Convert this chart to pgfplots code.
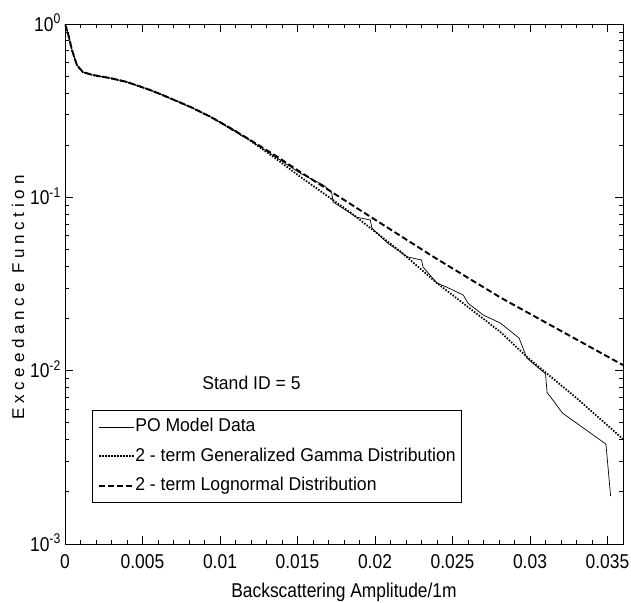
\documentclass[border=0pt]{standalone}
\usepackage{fontspec}
\setmainfont{Liberation Sans}[FakeStretch=0.87]
\newfontfamily\legfont{Liberation Sans}[FakeStretch=0.95]
\newfontfamily\ylabfont{Liberation Sans}[LetterSpace=28]
\usepackage{pgfplots}
\pgfplotsset{compat=1.18}
\newcommand\lbl{\fontsize{20bp}{24bp}\selectfont}
\newcommand\leg{\legfont\fontsize{18.5bp}{22bp}\selectfont}
\begin{document}
\begin{tikzpicture}
\begin{axis}[
    scale only axis, width=558bp, height=520bp,
    ymode=log,
    xmin=0, xmax=0.036, ymin=1e-3, ymax=1,
    xtick={0,0.005,0.01,0.015,0.02,0.025,0.03,0.035},
    xticklabels={0,0.005,0.01,0.015,0.02,0.025,0.03,0.035},
    scaled x ticks=false,
    minor x tick num=4,
    ytick={1e-3,1e-2,1e-1,1},
    yticklabels={10\textsuperscript{-3},10\textsuperscript{-2},10\textsuperscript{-1},10\textsuperscript{0}},
    minor ytick={2e-3,3e-3,4e-3,5e-3,6e-3,7e-3,8e-3,9e-3,
                 2e-2,3e-2,4e-2,5e-2,6e-2,7e-2,8e-2,9e-2,
                 2e-1,3e-1,4e-1,5e-1,6e-1,7e-1,8e-1,9e-1},
    tick align=inside,
    major tick length=8bp, minor tick length=4bp,
    axis line style={line width=0.8bp},
    every tick/.append style={black, line width=0.8bp},
    every minor tick/.append style={black, line width=0.8bp},
    xticklabel style={font=\lbl, anchor=base, inner sep=0pt, yshift=-24bp},
    yticklabel style={font=\lbl, anchor=base east, inner sep=0pt, xshift=-4bp, yshift=-7.2bp},
    xlabel={Backscattering Amplitude/1m},
    xlabel style={font=\lbl, at={(axis description cs:0.5,-0.102)}, anchor=base},
    ylabel={Exceedance Function},
    ylabel style={font=\ylabfont\fontsize{17bp}{20bp}\selectfont, at={(axis description cs:-0.084,0.474)}, anchor=center},
    legend cell align=left,
    legend image code/.code={\draw[#1] (0bp,0bp) -- (35bp,0bp);},
    legend style={
        at={(axis description cs:0.0484,0.0788)}, anchor=south west,
        draw=black, line width=0.8bp, fill=white,
        inner xsep=6bp, inner ysep=8bp, row sep=12bp,
        font=\leg,
        nodes={inner sep=0pt, text height=13.5bp, text depth=4bp},
        /tikz/every even column/.append style={column sep=4bp}
    },
]

% PO model data
\addplot[black, line width=0.7bp] coordinates {
(0,1) (0.00019,0.887) (0.00045,0.708) (0.00077,0.580) (0.00116,0.528)
(0.0018,0.508) (0.0029,0.488) (0.0040,0.463) (0.0055,0.416) (0.0066,0.379)
(0.0081,0.332) (0.0094,0.291) (0.0104,0.257) (0.0108,0.243) (0.0110,0.243)
(0.0113,0.229) (0.0117,0.220) (0.0135,0.173) (0.01516,0.138) (0.0160,0.126)
(0.01665,0.118) (0.0169,0.113) (0.0172,0.107) (0.0173,0.094) (0.0188,0.0769)
(0.0197,0.0740) (0.0198,0.0665) (0.0208,0.0545) (0.0221,0.0453) (0.0230,0.0435)
(0.0231,0.0396) (0.0240,0.0320) (0.0246,0.0304) (0.0257,0.0273) (0.0260,0.0245)
(0.0270,0.0209) (0.0281,0.0188) (0.0293,0.0154) (0.0298,0.0118) (0.0310,0.0096)
(0.0311,0.0075) (0.0321,0.00569) (0.0349,0.00377) (0.0352,0.00189)
};
\addlegendentry{PO Model Data}

% generalized gamma
\addplot[black, line width=1.8bp, dash pattern=on 1.5bp off 1.5bp] coordinates {
(0,1) (0.00019,0.885) (0.00045,0.706) (0.00077,0.578) (0.00116,0.527)
(0.0018,0.507) (0.0029,0.487) (0.0040,0.462) (0.0055,0.416) (0.0066,0.379)
(0.0081,0.332) (0.0094,0.291) (0.0106,0.253) (0.0117,0.220) (0.0135,0.170)
(0.0152,0.131) (0.0184,0.082) (0.0216,0.049) (0.0240,0.0320) (0.0281,0.0167)
(0.0298,0.0120) (0.0330,0.00695) (0.036,0.00403)
};
\addlegendentry{2 - term Generalized Gamma Distribution}

% lognormal
\addplot[black, line width=1.9bp, dash pattern=on 6bp off 3bp] coordinates {
(0,1) (0.00019,0.886) (0.00045,0.707) (0.00077,0.579) (0.00116,0.528)
(0.0018,0.508) (0.0029,0.488) (0.0040,0.463) (0.0055,0.416) (0.0066,0.379)
(0.0081,0.332) (0.0094,0.291) (0.0106,0.253) (0.0117,0.221) (0.0135,0.176)
(0.01516,0.1405) (0.0173,0.106) (0.0195,0.0794) (0.0238,0.0452) (0.0281,0.0264)
(0.0324,0.0162) (0.036,0.01077)
};
\addlegendentry{2 - term Lognormal Distribution}

\node[font=\leg, anchor=center] at (axis cs:0.01203,0.00848) {Stand ID = 5};
\end{axis}
\pgfresetboundingbox
\useasboundingbox (-65bp,-59bp) rectangle (566bp,544bp);
\end{tikzpicture}
\end{document}
